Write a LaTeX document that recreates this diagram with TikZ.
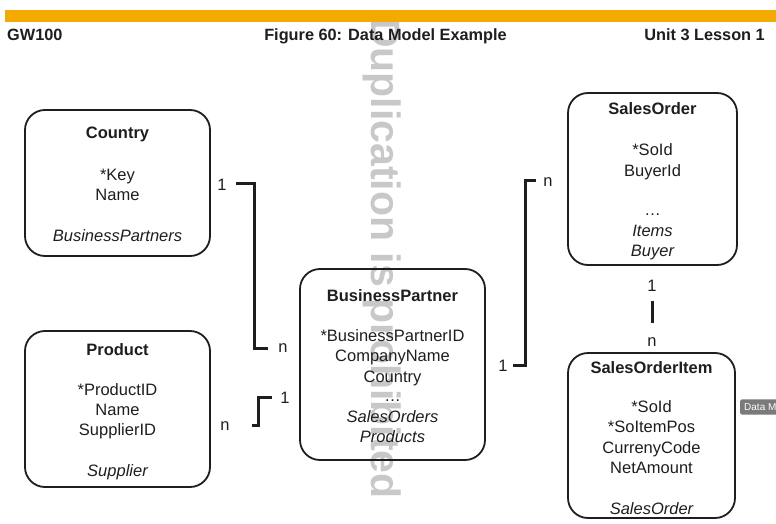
\documentclass[tikz,border=0pt]{standalone}
\usepackage{fontspec}
\setmainfont{Liberation Sans}
\definecolor{sapgold}{HTML}{F2A900}
\definecolor{ink}{HTML}{1E1E1E}
\definecolor{wmgray}{HTML}{C8C8C8}
\definecolor{tipgray}{HTML}{7A7A7A}
\tikzset{
  ent/.style={draw=ink, line width=1.8pt, rounded corners=20pt, inner sep=0pt},
  ln/.style={anchor=base, inner sep=0pt, text=ink, font=\fontsize{16.5}{19}\selectfont},
  ttl/.style={ln, font=\fontsize{16.5}{19}\selectfont\bfseries},
  itl/.style={ln, font=\fontsize{16.5}{19}\selectfont\itshape},
  conn/.style={draw=ink, line width=3pt},
  hdr/.style={inner sep=0pt, text=ink, font=\fontsize{16.3}{18}\selectfont\bfseries},
  wm/.style={inner sep=0pt, text=wmgray, font=\fontsize{41}{44}\selectfont\bfseries},
}
\begin{document}
\begin{tikzpicture}[x=1pt,y=-1pt]
\useasboundingbox (0,0) rectangle (776,524);
\begin{scope}
\clip (0,0) rectangle (776,524);
% watermark
\node[wm, rotate=-90, anchor=base west] (wmk) at (371,18) {Duplication is prohibited};
% header
\fill[sapgold] (5,10) rectangle (776,22);
\node[hdr, anchor=base west] (hl) at (7,41) {GW100};
\node[hdr, anchor=base] (hc) at (385.5,41) {Figure 60: Data Model Example};
\node[hdr, anchor=base east] (hr) at (765,41) {Unit 3 Lesson 1};

% Country
\node[ent, minimum width=185pt, minimum height=146pt] (country) at (117.5,183) {};
\node[ttl] (countryT) at (117.5,139) {Country};
\node[ln] (countryA) at (117.5,180) {*Key};
\node[ln] (countryB) at (117.5,200) {Name};
\node[itl] (countryC) at (117.5,241) {BusinessPartners};

% Product
\node[ent, minimum width=185pt, minimum height=156pt] (product) at (117.5,409) {};
\node[ttl] (productT) at (117.5,355) {Product};
\node[ln] (productA) at (117.5,395) {*ProductID};
\node[ln] (productB) at (117.5,415) {Name};
\node[ln] (productC) at (117.5,435) {SupplierID};
\node[itl] (productD) at (117.5,476) {Supplier};

% BusinessPartner
\node[ent, minimum width=185pt, minimum height=191pt] (bp) at (392.5,364.5) {};
\node[ttl] (bpT) at (392.5,301) {BusinessPartner};
\node[ln] (bpA) at (392.5,341) {*BusinessPartnerID};
\node[ln] (bpB) at (392.5,361) {CompanyName};
\node[ln] (bpC) at (392.5,382) {Country};
\node[ln] (bpD) at (392.5,401) {…};
\node[itl] (bpE) at (392.5,422) {SalesOrders};
\node[itl] (bpF) at (392.5,442) {Products};

% SalesOrder
\node[ent, minimum width=169pt, minimum height=172pt] (so) at (652.5,179) {};
\node[ttl] (soT) at (652.5,115) {SalesOrder};
\node[ln] (soA) at (652.5,155) {*SoId};
\node[ln] (soB) at (652.5,176) {BuyerId};
\node[ln] (soC) at (652.5,215) {…};
\node[itl] (soD) at (652.5,236) {Items};
\node[itl] (soE) at (652.5,256) {Buyer};

% SalesOrderItem
\node[ent, minimum width=167pt, minimum height=165pt] (soi) at (651.5,435.5) {};
\node[ttl] (soiT) at (651.5,373) {SalesOrderItem};
\node[ln] (soiA) at (651.5,412) {*SoId};
\node[ln] (soiB) at (651.5,432) {*SoItemPos};
\node[ln] (soiC) at (651.5,453) {CurrenyCode};
\node[ln] (soiD) at (651.5,473) {NetAmount};
\node[itl] (soiE) at (651.5,514) {SalesOrder};

% connector Country - BusinessPartner
\node[ln] (k1l) at (222,190) {1};
\node[ln] (k1r) at (283,352) {n};
\coordinate (k1a) at (236,183);
\coordinate (k1b) at (268,348);
\draw[conn] (k1a) -- ++(18,0) |- (k1b);

% connector Product - BusinessPartner
\node[ln] (k2l) at (225,430) {n};
\node[ln] (k2r) at (285,403) {1};
\coordinate (k2a) at (252,425);
\coordinate (k2b) at (272,397);
\draw[conn] (k2a) -- ++(6,0) |- (k2b);

% connector BusinessPartner - SalesOrder
\node[ln] (k3l) at (503,371) {1};
\node[ln] (k3r) at (548,186) {n};
\coordinate (k3a) at (513,365);
\coordinate (k3b) at (536,180);
\draw[conn] (k3a) -- ++(12,0) |- (k3b);

% connector SalesOrder - SalesOrderItem
\node[ln] (k4t) at (652,291) {1};
\node[ln] (k4b) at (652,346) {n};
\coordinate (k4x) at (652,301);
\coordinate (k4y) at (652,323);
\draw[conn] (k4x) -- (k4y);

% tooltip
\node[fill=tipgray, rounded corners=2pt, anchor=west, inner xsep=4pt, inner ysep=4pt,
      text=white, font=\fontsize{10}{11}\selectfont] (tip) at (740,407) {Data Model};
\end{scope}
\end{tikzpicture}
\end{document}
